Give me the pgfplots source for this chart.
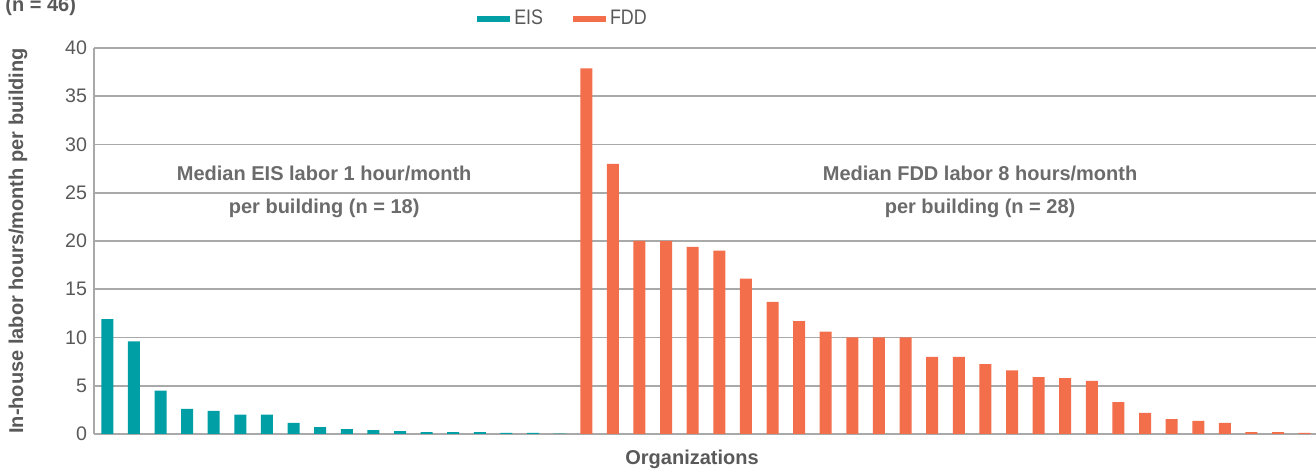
\documentclass[border=0pt]{standalone}
\usepackage{fontspec}
\setmainfont{Liberation Sans}
\newfontfamily\narrowfont[FakeStretch=0.85]{Liberation Sans}
\usepackage{pgfplots}
\pgfplotsset{compat=1.18}
\definecolor{eis}{HTML}{009FA6}
\definecolor{fdd}{HTML}{F36F4C}
\definecolor{gridc}{HTML}{A9A9A9}
\definecolor{txt}{HTML}{595959}
\definecolor{ann}{HTML}{6B6B6B}

\begin{document}
\begin{tikzpicture}
\begin{axis}[
  at={(47pt,18pt)}, anchor=south west,
  scale only axis, width=612pt, height=193pt,
  xmin=-0.5, xmax=45.5, ymin=0, ymax=40,
  ytick={0,5,...,40}, xtick=\empty,
  ymajorgrids, grid style={gridc, line width=0.8pt},
  axis x line*=bottom, axis y line*=left,
  axis line style={gridc, line width=0.8pt},
  major tick length=0pt,
  /pgf/number format/assume math mode=true,
  tick label style={text=txt, font=\fontsize{9.8}{11}\selectfont},
  ybar, bar width=6pt, bar shift=0pt,
  ylabel={In-house labor hours/month per building},
  ylabel style={at={(axis description cs:-0.062,0.5)}, anchor=center,
    font=\bfseries\fontsize{10}{12}\selectfont, text=txt},
  xlabel={Organizations},
  xlabel style={at={(axis description cs:0.4886,-0.067)}, anchor=center,
    font=\bfseries\fontsize{10}{12}\selectfont, text=txt},
  legend columns=2,
  legend image code/.code={\fill[#1] (0pt,-1.3pt) rectangle (16.5pt,1.3pt);},
  legend style={at={(0.384,1.075)}, anchor=center, draw=none, fill=none,
    font=\narrowfont\fontsize{10.5}{12}\selectfont, text=txt,
    /tikz/every even column/.append style={column sep=13pt}},
]
% EIS
\addplot[fill=eis, draw=none] coordinates {
  (0,11.9) (1,9.6) (2,4.5) (3,2.6) (4,2.4) (5,2.0) (6,2.0) (7,1.15) (8,0.7)
  (9,0.5) (10,0.4) (11,0.3) (12,0.2) (13,0.2) (14,0.2) (15,0.12) (16,0.12) (17,0.05)
};
\addlegendentry{EIS}
% FDD
\addplot[fill=fdd, draw=none] coordinates {
  (18,37.9) (19,28.0) (20,20.0) (21,20.0) (22,19.4) (23,19.0) (24,16.1) (25,13.7)
  (26,11.7) (27,10.6) (28,10.0) (29,10.0) (30,10.0) (31,8.0) (32,8.0) (33,7.25)
  (34,6.6) (35,5.9) (36,5.8) (37,5.5) (38,3.3) (39,2.2) (40,1.55) (41,1.35)
  (42,1.15) (43,0.2) (44,0.2) (45,0.12)
};
\addlegendentry{FDD}
\node[align=center, text=ann, font=\bfseries\fontsize{10}{16.5}\selectfont]
  at (axis cs:8.15,25.1) {Median EIS labor 1 hour/month\\per building (n = 18)};
\node[align=center, text=ann, font=\bfseries\fontsize{10}{16.5}\selectfont]
  at (axis cs:32.8,25.1) {Median FDD labor 8 hours/month\\per building (n = 28)};
\end{axis}
\node[anchor=base west, inner sep=0pt, text=txt, font=\bfseries\fontsize{10}{12}\selectfont]
  at (2.5pt,229.2pt) {(n = 46)};
\pgfresetboundingbox
\useasboundingbox (0,0) rectangle (658pt,235pt);
\end{tikzpicture}
\end{document}
